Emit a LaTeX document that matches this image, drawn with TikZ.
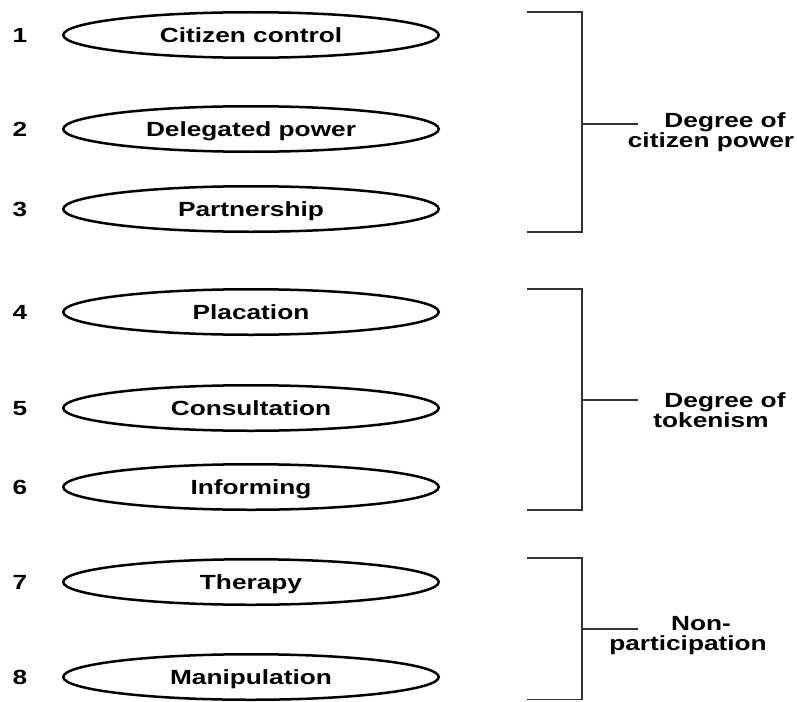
\documentclass[tikz,border=0pt]{standalone}
\usepackage{fontspec}
\setmainfont{Liberation Sans}
\newfontfamily\labfont[FakeStretch=1.28]{Liberation Sans}
\usetikzlibrary{shapes.geometric}
\begin{document}
\begin{tikzpicture}[x=1pt,y=-1pt,
  txt/.style={font=\labfont\bfseries\fontsize{20.5}{20.5}\selectfont},
  rung/.style={txt, ellipse, draw=black, line width=2.5pt, minimum width=375.5pt,
    minimum height=45.5pt, inner sep=0pt, text height=14pt, text depth=0pt},
  num/.style={txt, inner sep=0pt, text height=14pt, text depth=0pt},
  brk/.style={line width=1.3pt, draw=black!80},
  lab/.style={txt, anchor=base, inner sep=0pt}]
\useasboundingbox (0,0) rectangle (797,701);

% ladder rungs
\node[rung] (r1) at (251,35)  {Citizen control};
\node[rung] (r2) at (251,129) {Delegated power};
\node[rung] (r3) at (251,209) {Partnership};
\node[rung] (r4) at (251,312) {Placation};
\node[rung] (r5) at (251,408) {Consultation};
\node[rung] (r6) at (251,487) {Informing};
\node[rung] (r7) at (251,582) {Therapy};
\node[rung] (r8) at (251,677) {Manipulation};

% numbers
\node[num] (n1) at (20,35)  {1};
\node[num] (n2) at (20,129) {2};
\node[num] (n3) at (20,209) {3};
\node[num] (n4) at (20,312) {4};
\node[num] (n5) at (20,408) {5};
\node[num] (n6) at (20,487) {6};
\node[num] (n7) at (20,582) {7};
\node[num] (n8) at (20,677) {8};

% brackets
\coordinate (g1a) at (527,12);  \coordinate (g1b) at (527,232);
\coordinate (g1m) at (582,124); \coordinate (g1e) at (638,124);
\draw[brk] (g1a) -| (g1m) |- (g1b);
\draw[brk] (g1m) -- (g1e);

\coordinate (g2a) at (527,289); \coordinate (g2b) at (527,510);
\coordinate (g2m) at (582,400); \coordinate (g2e) at (638,400);
\draw[brk] (g2a) -| (g2m) |- (g2b);
\draw[brk] (g2m) -- (g2e);

\coordinate (g3a) at (527,558); \coordinate (g3b) at (527,699.3);
\coordinate (g3m) at (582,629); \coordinate (g3e) at (638,629);
\draw[brk] (g3a) -| (g3m) |- (g3b);
\draw[brk] (g3m) -- (g3e);

% group labels
\node[lab] (l1a) at (725,127) {Degree of};
\node[lab] (l1b) at (711,147) {citizen power};
\node[lab] (l2a) at (725,407) {Degree of};
\node[lab] (l2b) at (711,427) {tokenism};
\node[lab] (l3a) at (701,630) {Non-};
\node[lab] (l3b) at (688,650) {participation};
\end{tikzpicture}
\end{document}
